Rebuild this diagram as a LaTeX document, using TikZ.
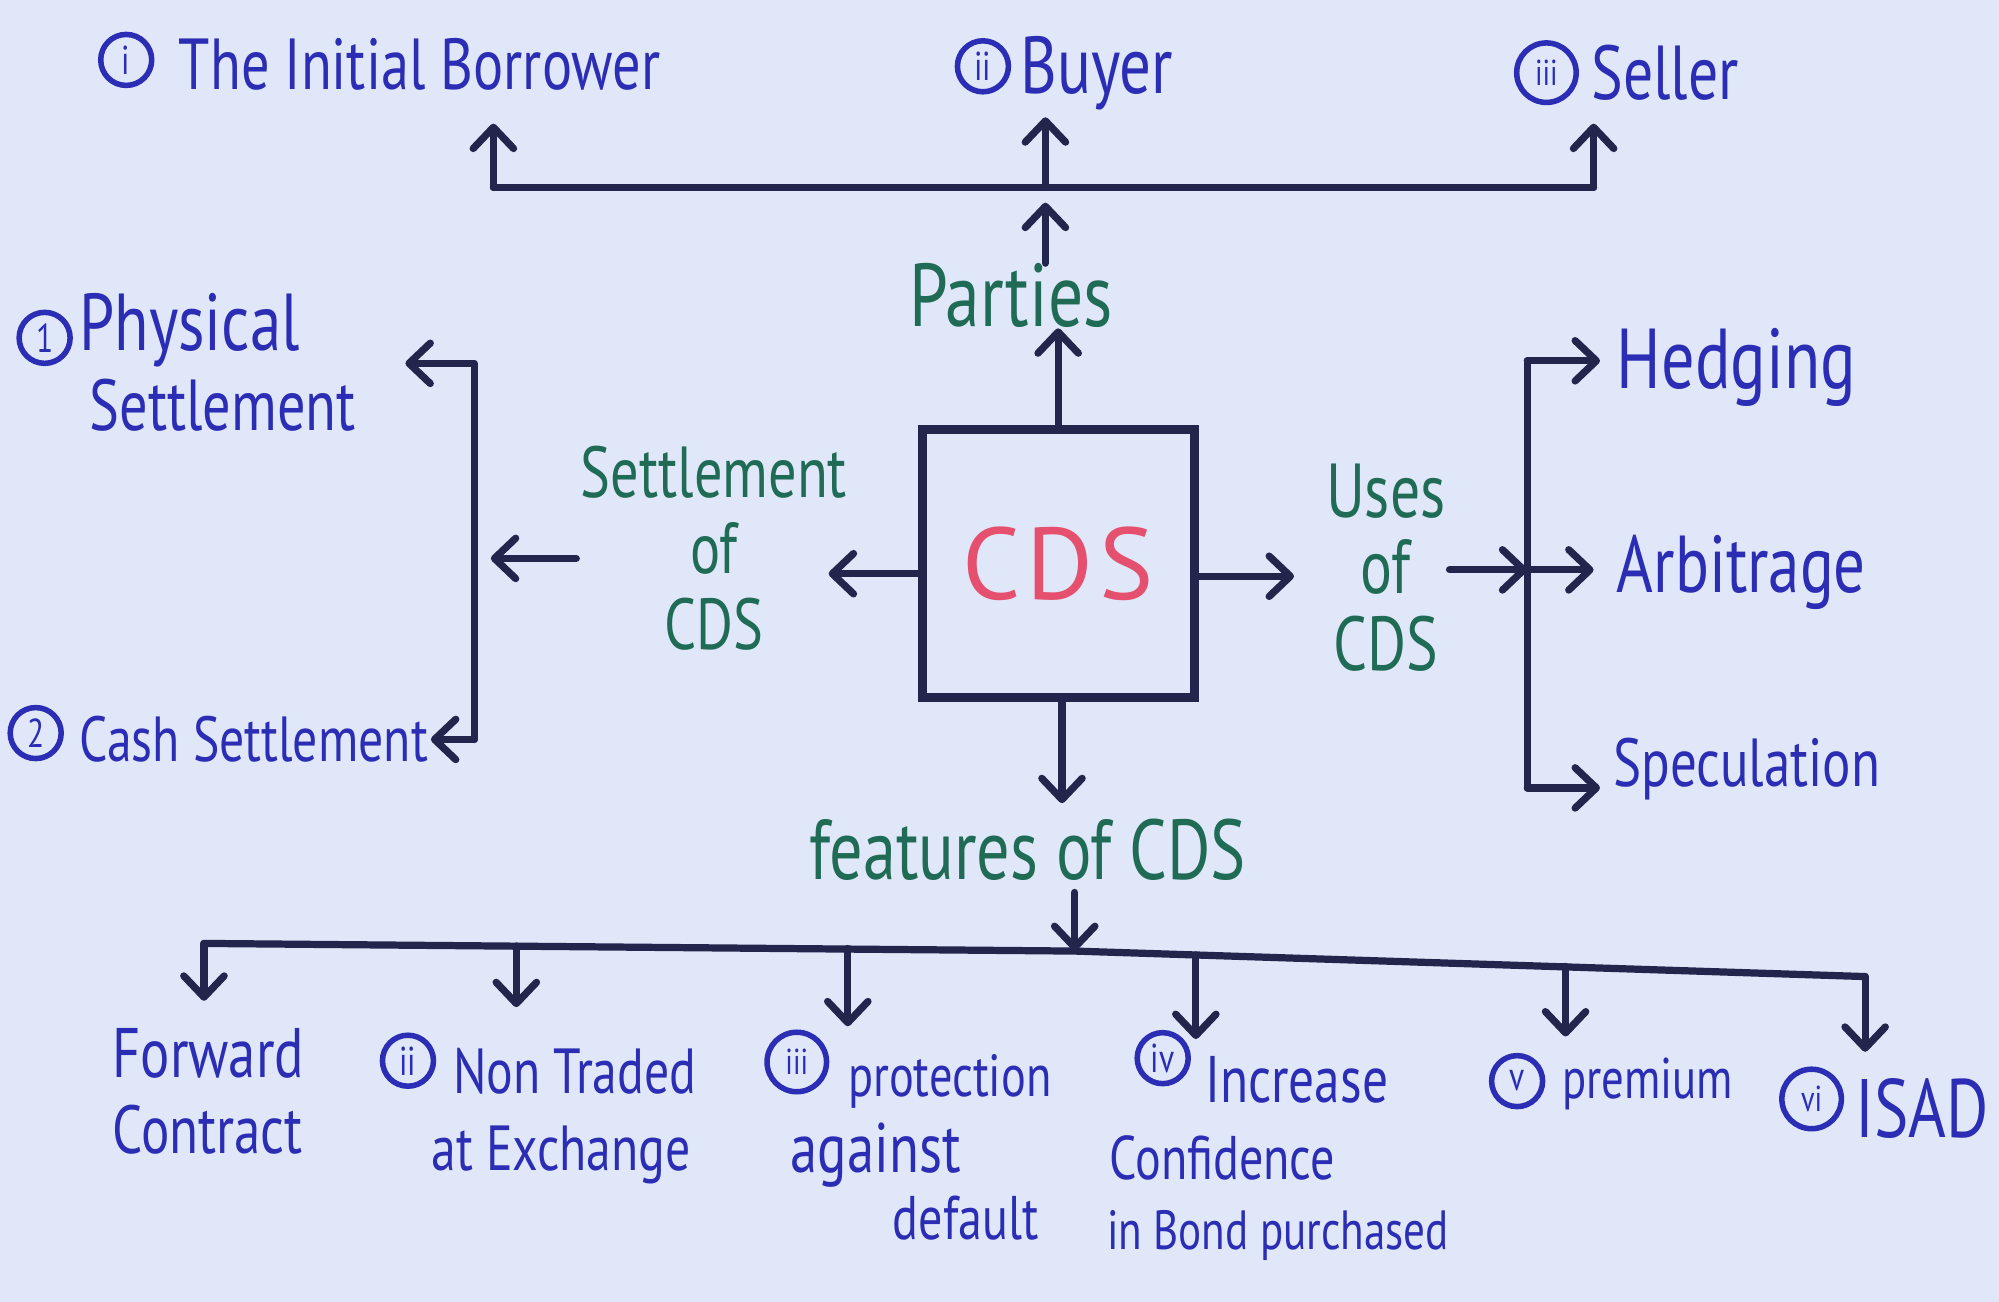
\documentclass[tikz,border=0pt]{standalone}
\usepackage{fontspec}
\usetikzlibrary{arrows.meta}
\newfontfamily\hand[FakeStretch=0.78]{PT Sans}
\newfontfamily\handwide{PT Sans}
\definecolor{board}{HTML}{DFE7F8}
\definecolor{ink}{HTML}{23264C}
\definecolor{penblue}{HTML}{2B2DB4}
\definecolor{pengreen}{HTML}{1F6B55}
\definecolor{penred}{HTML}{E5506E}
\newcommand{\fsz}[1]{\fontsize{#1}{36}\selectfont}

\begin{document}
\begin{tikzpicture}[x=0.6pt,y=-0.6pt,
  ln/.style={draw=ink,line width=3.4pt,line cap=round,line join=round},
  arr/.style={ln,-{Straight Barb[round,length=10pt,width=19pt]}},
  bluetxt/.style={text=penblue,inner sep=0pt,anchor=base west},
  greentxt/.style={text=pengreen,inner sep=0pt,align=center},
  numc/.style={circle,draw=penblue,line width=2.6pt,text=penblue,
    font=\hand\fontsize{19}{19}\selectfont,minimum size=24pt,inner sep=0pt},
  numcw/.style={numc,minimum size=28pt,font=\hand\fontsize{17}{17}\selectfont},
]
% board
\fill[board] (0,0) rectangle (1568,1021);
\useasboundingbox (0,0) rectangle (1568,1021);

% ---------- centre ----------
\node[draw=ink,line width=4.2pt,minimum width=128pt,minimum height=126pt,
  text=penred,font=\handwide\fsz{48}] (cds) at (830,442) {C\kern3pt D\kern3pt S};

% ---------- parties ----------
\node[greentxt,font=\hand\fsz{42}] (par) at (793,232) {Parties};
\coordinate (tl) at (387,147);
\coordinate (tm) at (820,147);
\coordinate (tr) at (1250,147);
\coordinate (tmtip) at (820,159);
\coordinate (ibtip) at (387,97);
\coordinate (butip) at (820,92);
\coordinate (setip) at (1250,97);
\draw[arr] (cds.north) -- (cds.north |- par.south);
\draw[arr] (par.north -| tm) -- (tmtip);
\draw[ln] (tl) -- (tr);
\draw[arr] (tl) -- (ibtip);
\draw[arr] (tm) -- (butip);
\draw[arr] (tr) -- (setip);

\node[numc] (p1) at (99,47) {i};
\node[bluetxt,font=\hand\fsz{34}] (ib) at (140,70) {The Initial Borrower};
\node[numc] (p2) at (771,52) {ii};
\node[bluetxt,font=\hand\fsz{38}] (buy) at (800,73) {Buyer};
\node[numcw] (p3) at (1213,57) {iii};
\node[bluetxt,font=\hand\fsz{36}] (sel) at (1248,78) {Seller};

% ---------- settlement ----------
\node[greentxt,font=\hand\fsz{34}] (soc) at (560,430) {Settlement\\of\\CDS};
\coordinate (sl1) at (650,450);
\coordinate (sl2) at (385,438);
\coordinate (sl0) at (452,438);
\coordinate (bt) at (372,285);
\coordinate (bb) at (372,580);
\coordinate (pstip) at (318,285);
\coordinate (cstip) at (338,580);
\draw[arr] (cds.west |- sl1) -- (sl1);
\draw[arr] (sl0) -- (sl2);
\draw[arr] (bb) -- (bt) -- (pstip);
\draw[arr] (bb) -- (cstip);

\node[numc] (s1) at (35,265) {1};
\node[bluetxt,font=\hand\fsz{38}] (phys) at (62,275) {Physical};
\node[bluetxt,font=\hand\fsz{34}] (physb) at (70,338) {Settlement};
\node[numc] (s2) at (28,575) {2};
\node[bluetxt,font=\hand\fsz{30}] (cash) at (62,597) {Cash Settlement};

% ---------- uses ----------
\node[greentxt,font=\hand\fsz{36}] (uoc) at (1087,445) {Uses\\of\\CDS};
\coordinate (ur1) at (1015,452);
\coordinate (us) at (1137,447);
\coordinate (vt) at (1198,283);
\coordinate (vm) at (1198,447);
\coordinate (vb) at (1198,618);
\coordinate (hetip) at (1255,283);
\coordinate (artip) at (1250,447);
\coordinate (sptip) at (1255,618);
\draw[arr] (cds.east |- ur1) -- (ur1);
\draw[arr] (us) -- (vm);
\draw[ln] (vt) -- (vb);
\draw[arr] (vt) -- (hetip);
\draw[arr] (vm) -- (artip);
\draw[arr] (vb) -- (sptip);
\node[bluetxt,font=\hand\fsz{40}] (hed) at (1268,305) {Hedging};
\node[bluetxt,font=\hand\fsz{38}] (arb) at (1268,465) {Arbitrage};
\node[bluetxt,font=\hand\fsz{32}] (spe) at (1265,617) {Speculation};

% ---------- features ----------
\coordinate (fttip) at (833,630);
\draw[arr] (cds.south -| fttip) -- (fttip);
\node[greentxt,font=\hand\fsz{40},anchor=base] (feat) at (806,690) {features of CDS};
\coordinate (fs) at (843,700);
\coordinate (bl) at (160,740);
\coordinate (bm) at (843,746);
\coordinate (br) at (1463,766);
\draw[arr] (fs) -- (bm);
\draw[ln] (bl) -- (bm) -- (br);
\coordinate (b2) at (405,742);
\coordinate (b3) at (665,744);
\coordinate (b4) at (938,749);
\coordinate (b5) at (1228,758);
\coordinate (d1) at (160,785);
\coordinate (d2) at (405,790);
\coordinate (d3) at (665,805);
\coordinate (d4) at (938,815);
\coordinate (d5) at (1228,813);
\coordinate (d6) at (1463,825);
\draw[arr] (bl) -- (d1);
\draw[arr] (b2) -- (d2);
\draw[arr] (b3) -- (d3);
\draw[arr] (b4) -- (d4);
\draw[arr] (b5) -- (d5);
\draw[arr] (br) -- (d6);

\node[bluetxt,font=\hand\fsz{33}] (fw) at (88,845) {Forward};
\node[bluetxt,font=\hand\fsz{32}] (fwb) at (88,905) {Contract};

\node[numc] (f2) at (320,832) {ii};
\node[bluetxt,font=\hand\fsz{30}] (nt) at (355,858) {Non Traded};
\node[bluetxt,font=\hand\fsz{30}] (ntb) at (338,918) {at Exchange};

\node[numcw] (f3) at (625,833) {iii};
\node[bluetxt,font=\hand\fsz{28}] (pr) at (665,860) {protection};
\node[bluetxt,font=\hand\fsz{33}] (prb) at (620,920) {against};
\node[bluetxt,font=\hand\fsz{29}] (prc) at (700,972) {default};

\node[numc] (f4) at (912,830) {iv};
\node[bluetxt,font=\hand\fsz{31}] (ic) at (945,865) {Increase};
\node[bluetxt,font=\hand\fsz{29}] (icb) at (870,925) {Confidence};
\node[bluetxt,font=\hand\fsz{26}] (icc) at (868,980) {in Bond purchased};

\node[numc] (f5) at (1190,848) {v};
\node[bluetxt,font=\hand\fsz{27}] (pm) at (1225,862) {premium};

\node[numcw] (f6) at (1421,862) {vi};
\node[bluetxt,font=\hand\fsz{39}] (isad) at (1455,892) {ISAD};
\end{tikzpicture}
\end{document}
